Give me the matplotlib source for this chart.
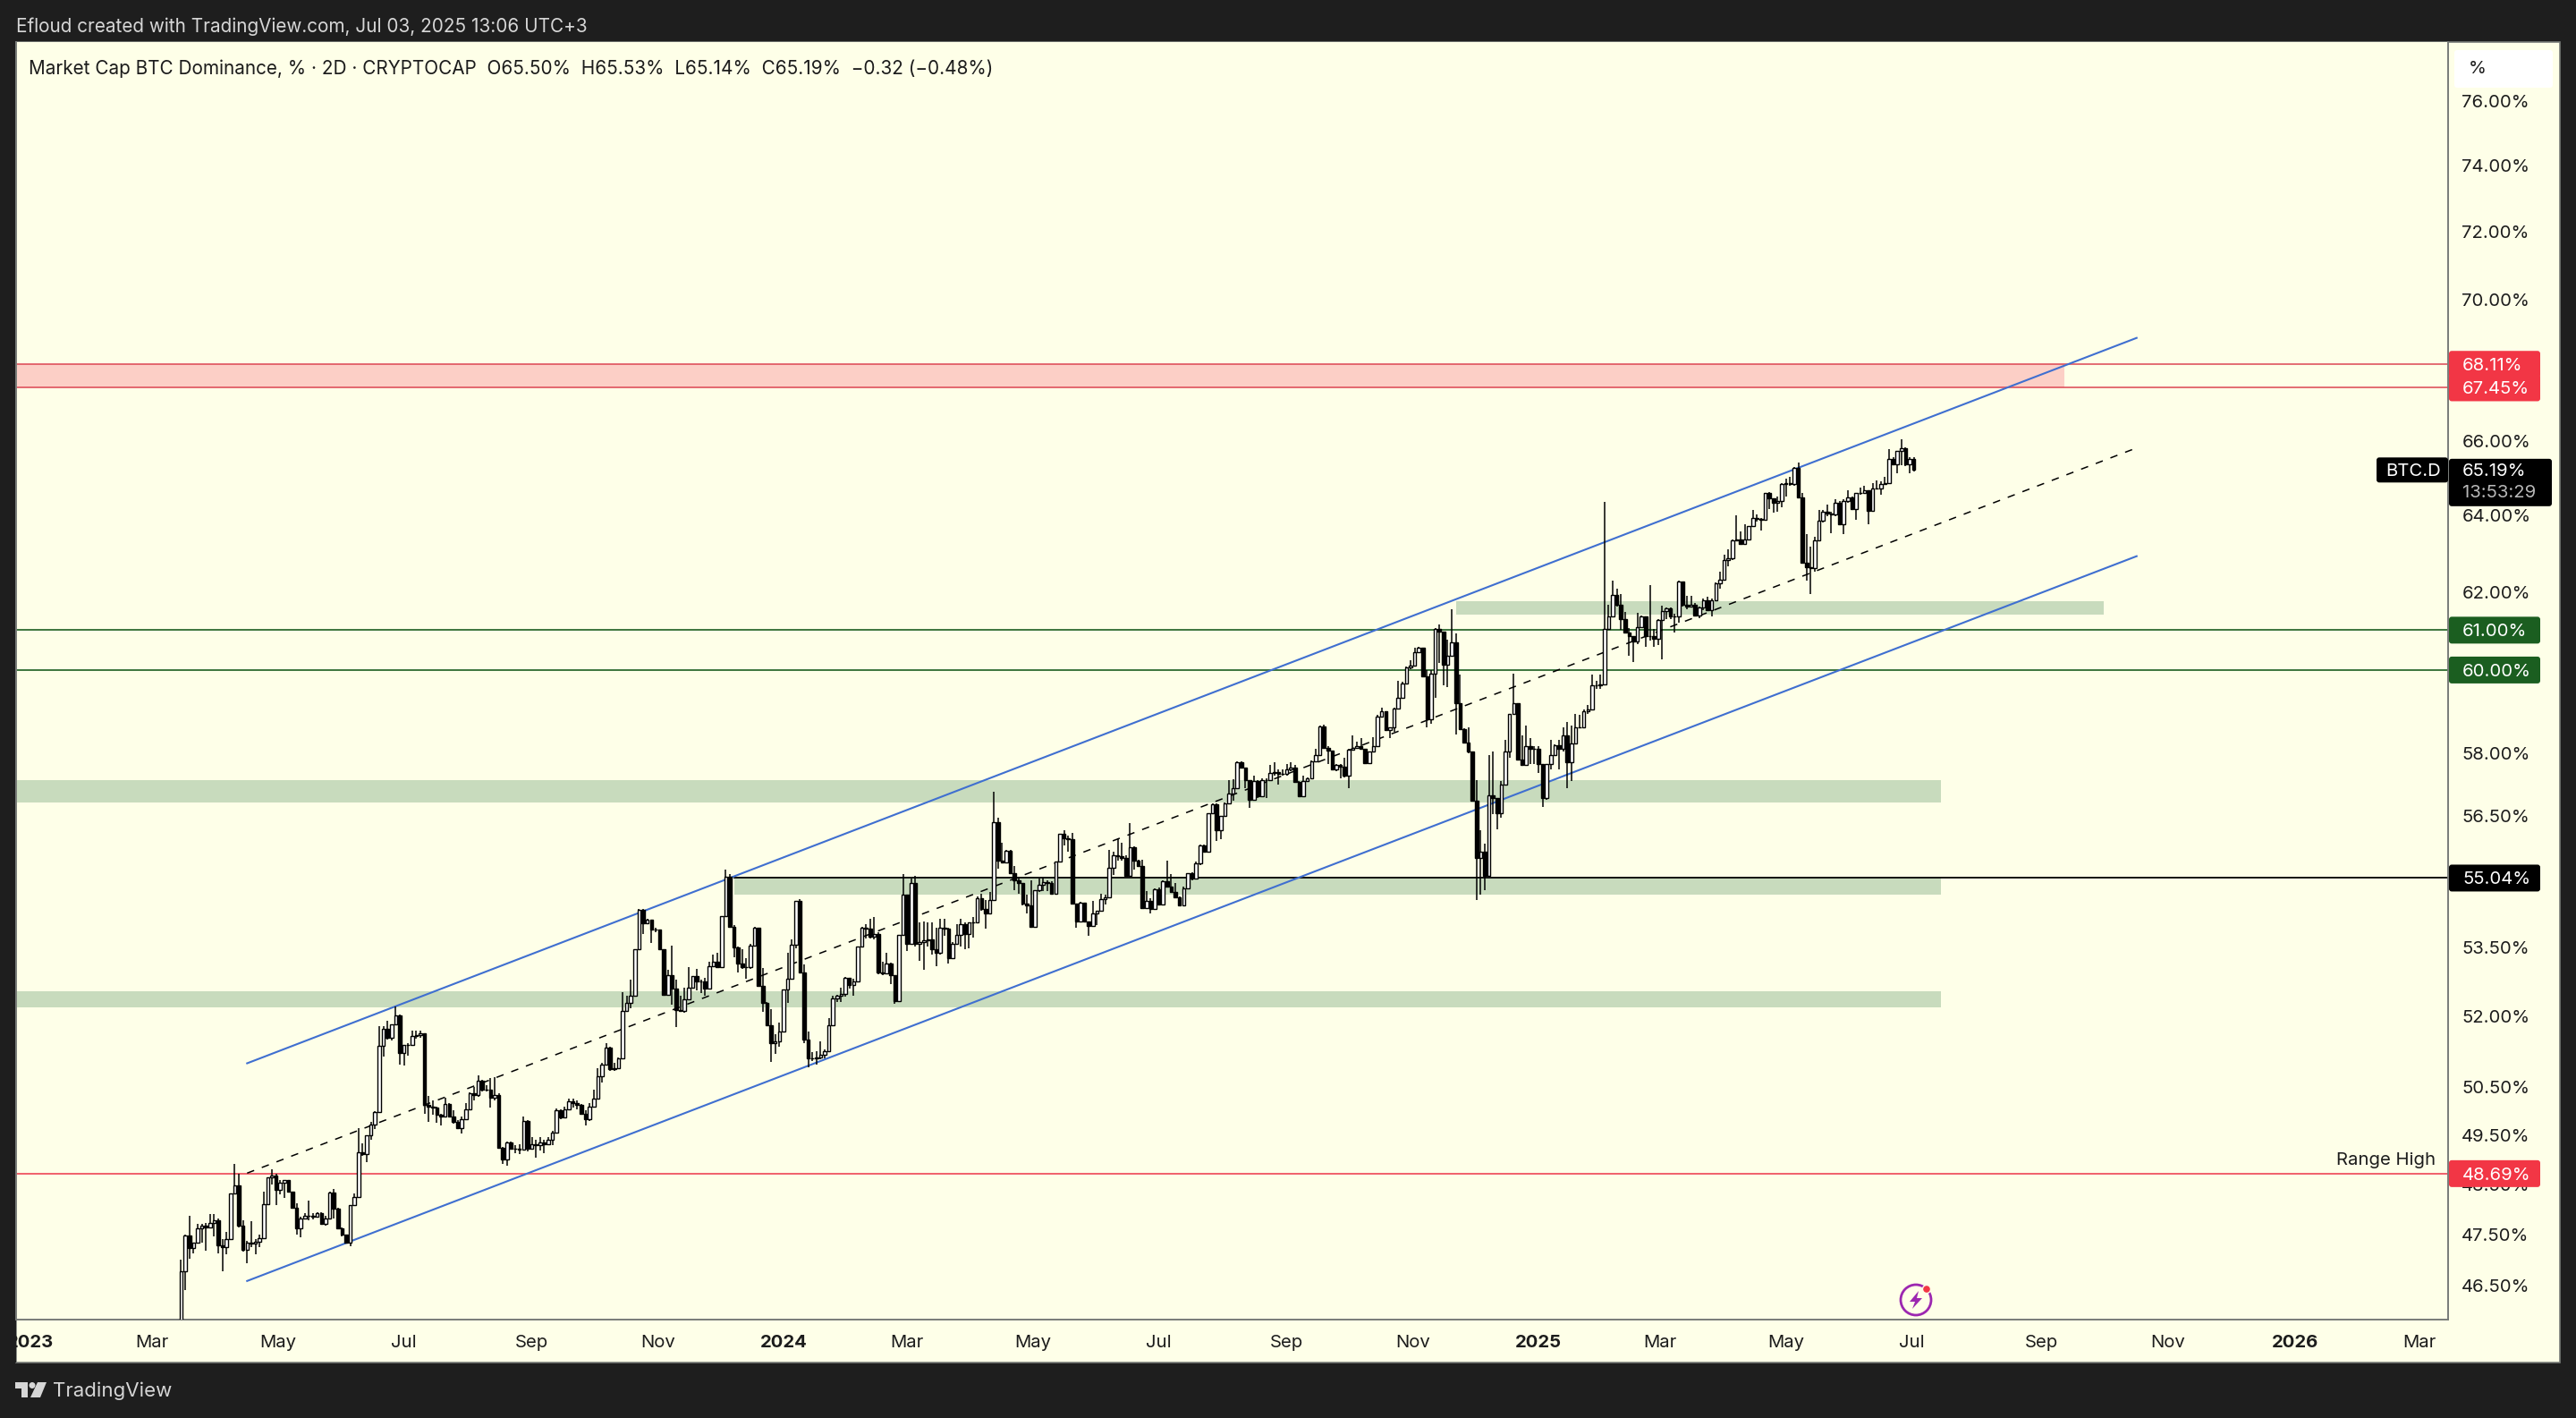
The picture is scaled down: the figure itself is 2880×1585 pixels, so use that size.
import numpy as np
import matplotlib
matplotlib.use('Agg')
import matplotlib.pyplot as plt
import matplotlib.dates as mdates
from matplotlib.patches import Rectangle, FancyBboxPatch, Circle, Polygon
from matplotlib.transforms import IdentityTransform, ScaledTranslation
from datetime import date, timedelta

plt.rcParams['font.family'] = ['Inter', 'DejaVu Sans']

# 2D candles of BTC.D, first bar 2023-03-15
first_bar = date(2023, 3, 15)
first_open = 44.6

closes_a = [46.76, 47.45, 47.21, 47.32, 47.59, 47.65, 47.62, 47.70, 47.76, 47.26,
            47.23, 47.39, 48.29, 48.46, 47.65, 47.17, 47.32, 47.29, 47.33, 47.41,
            48.07, 48.61, 48.65, 48.37, 48.50, 48.56, 48.32, 48.00, 47.59, 47.80,
            47.85, 47.84, 47.82, 47.90, 47.68, 47.80, 48.31, 47.98, 47.60, 47.47,
            47.31, 48.06, 48.22, 49.12, 49.08, 49.47, 49.70, 49.95, 51.34, 51.71,
            51.51, 51.79, 52.00, 51.19, 51.35, 51.36, 51.55, 51.56, 51.60, 50.10,
            50.07, 50.04, 49.89, 49.86, 50.12, 49.86, 49.74, 49.62, 49.80, 50.00,
            50.34, 50.31, 50.60, 50.42, 50.42, 50.25, 50.31, 49.21, 48.98, 49.33,
            49.19, 49.19, 49.18, 49.77, 49.19,
            49.29, 49.26, 49.32, 49.29, 49.38, 49.53, 49.98, 49.83, 50.01, 50.17,
            50.13, 50.10, 49.92, 49.80, 50.07, 50.23]
highs_a = [46.99, 47.47, 47.84, 47.32, 47.68, 47.68, 47.70, 47.88, 47.88, 47.79,
           47.39, 47.53, 48.29, 48.89, 48.68, 47.76, 47.35, 47.74, 47.39, 47.47,
           48.32, 48.62, 48.78, 48.68, 48.56, 48.57, 48.57, 48.29, 48.10, 47.82,
           47.90, 48.15, 47.90, 47.91, 47.91, 47.85, 48.32, 48.38, 48.01, 47.62,
           47.47, 48.06, 48.29, 49.62, 49.31, 49.47, 49.74, 49.96, 51.77, 51.77,
           51.87, 51.80, 52.19, 52.01, 51.35, 51.40, 51.67, 51.67, 51.67, 51.61,
           50.28, 50.19, 50.07, 49.92, 50.25, 50.14, 49.99, 49.78, 49.86, 50.13,
           50.35, 50.48, 50.71, 50.62, 50.51, 50.65, 50.67, 50.34, 49.23, 49.35,
           49.35, 49.26, 49.29, 49.86, 49.78,
           49.44, 49.38, 49.44, 49.38, 49.44, 49.56, 50.03, 50.01, 50.07, 50.23,
           50.23, 50.20, 50.12, 49.98, 50.13, 50.41]
lows_a = [44.50, 46.39, 47.00, 47.10, 47.32, 47.32, 47.16, 47.59, 47.44, 47.11,
          46.76, 47.08, 47.38, 48.27, 47.62, 47.14, 46.91, 47.23, 47.08, 47.23,
          47.41, 48.06, 48.47, 48.06, 48.27, 48.21, 48.31, 48.00, 47.47, 47.43,
          47.79, 47.76, 47.77, 47.85, 47.66, 47.65, 47.79, 47.79, 47.59, 47.44,
          47.29, 47.25, 48.04, 48.22, 49.05, 48.93, 49.38, 49.59, 49.94, 51.12,
          51.48, 51.45, 51.79, 50.95, 50.93, 51.14, 51.43, 51.49, 51.51, 49.92,
          49.74, 49.89, 49.72, 49.68, 49.83, 49.83, 49.71, 49.60, 49.50, 49.86,
          50.15, 50.20, 50.26, 50.38, 50.37, 50.04, 50.19, 49.19, 48.89, 48.85,
          49.18, 49.10, 49.09, 49.17, 49.14,
          49.17, 49.02, 49.16, 49.11, 49.26, 49.26, 49.53, 49.80, 49.83, 49.98,
          50.04, 50.01, 49.89, 49.68, 49.77, 50.06]

closes_b = [50.70, 50.95, 51.30, 50.84, 50.86, 51.08, 52.08, 52.27, 52.42, 53.44,
            54.32, 54.02, 54.09, 53.88, 53.88, 53.44, 52.44, 52.87, 52.57, 52.10,
            52.08, 52.34, 52.59, 52.84, 52.74, 52.73, 52.57, 53.06, 53.16, 53.05,
            54.17, 55.08, 53.94, 53.48, 53.12, 53.05, 53.05, 53.52, 53.92, 52.63,
            52.27, 51.78, 51.39, 51.43, 51.64, 52.55, 52.79, 53.54, 54.52, 52.93,
            51.47, 51.08, 51.08, 51.09, 51.15, 51.22, 51.78, 52.36, 52.42, 52.46,
            52.80, 52.66, 52.74, 53.50, 53.92, 53.90, 53.72, 53.78, 52.92]
highs_b = [50.87, 50.98, 51.39, 51.33, 50.98, 51.09, 52.49, 52.41, 52.76, 53.44,
           54.34, 54.34, 54.12, 54.07, 53.92, 53.88, 53.44, 52.98, 53.52, 52.76,
           52.41, 52.60, 53.05, 52.85, 53.01, 52.76, 52.80, 53.17, 53.33, 53.36,
           54.17, 55.24, 55.13, 53.98, 53.50, 53.43, 53.24, 53.56, 53.94, 53.78,
           53.03, 52.28, 52.12, 51.59, 51.84, 52.55, 53.36, 53.65, 54.52, 54.57,
           53.11, 51.65, 51.21, 51.22, 51.43, 51.27, 51.93, 52.41, 52.44, 52.60,
           52.82, 52.80, 52.79, 53.50, 53.94, 54.00, 54.12, 54.15, 53.82]
lows_b = [50.41, 50.56, 50.95, 50.81, 50.81, 50.90, 51.09, 52.08, 52.14, 52.41,
          53.43, 53.78, 53.99, 53.58, 53.82, 53.43, 52.41, 52.44, 52.22, 51.75,
          52.06, 52.05, 52.32, 52.57, 52.54, 52.47, 52.41, 52.55, 53.05, 53.03,
          53.17, 54.15, 53.92, 53.27, 52.92, 53.00, 52.79, 53.01, 53.51, 52.63,
          52.06, 51.78, 51.00, 51.17, 51.33, 51.65, 52.27, 52.78, 53.46, 52.92,
          51.39, 50.89, 51.02, 50.95, 51.05, 51.07, 51.21, 51.76, 52.28, 52.29,
          52.40, 52.57, 52.41, 52.73, 53.49, 53.68, 53.67, 53.65, 52.89]

closes_c = [52.90, 53.13, 52.87, 52.30, 53.76, 54.66, 53.56, 54.93, 53.56, 53.60,
            53.63, 53.66, 53.43, 53.36, 53.91, 53.90, 53.24, 53.56, 53.76, 53.99,
            53.78, 54.03, 54.03, 54.59, 54.33, 54.24, 54.54, 56.33, 55.44, 55.39,
            55.66, 55.15, 54.99, 54.93, 54.46, 54.43, 53.93, 54.76, 54.88, 54.95,
            54.93, 54.68, 55.41, 56.05, 55.96, 55.93, 54.46, 54.06, 54.49, 54.05,
            53.96, 54.24, 54.30, 54.57, 54.61, 55.27, 55.57, 55.55, 55.50, 55.10,
            55.75, 55.44, 55.32, 54.36, 54.53, 54.33, 54.79, 54.44, 54.97, 54.84,
            54.73, 54.61, 54.43, 54.81, 55.15, 55.03, 55.37, 55.80, 55.65, 56.54,
            56.76, 56.15, 56.47, 56.78, 57.00, 57.14]
highs_c = [53.16, 53.36, 53.15, 52.87, 53.76, 55.13, 54.66, 55.03, 55.10, 54.03,
           54.06, 54.03, 54.03, 53.92, 54.11, 54.11, 53.91, 53.60, 53.99, 54.11,
           54.03, 54.03, 54.16, 54.63, 54.69, 54.55, 54.73, 57.05, 56.43, 55.85,
           55.69, 55.69, 55.32, 55.06, 54.93, 54.66, 54.99, 54.77, 55.03, 55.04,
           54.99, 54.96, 55.42, 56.05, 56.15, 56.01, 56.08, 54.46, 54.51, 54.49,
           54.06, 54.53, 54.30, 54.69, 54.66, 55.69, 55.65, 55.96, 55.85, 55.57,
           56.31, 55.77, 55.46, 55.46, 54.75, 54.59, 54.81, 54.83, 54.99, 55.44,
           55.13, 54.93, 54.63, 54.84, 55.16, 55.18, 55.41, 55.82, 55.82, 56.55,
           56.78, 56.78, 56.48, 56.80, 57.33, 57.35]
lows_c = [52.87, 52.89, 52.67, 52.25, 52.29, 53.76, 53.40, 53.56, 53.50, 53.18,
          52.98, 53.50, 53.33, 53.07, 53.33, 53.73, 53.13, 53.22, 53.54, 53.50,
          53.44, 53.46, 53.70, 54.02, 54.30, 53.90, 54.23, 54.53, 55.25, 55.37,
          55.37, 55.13, 54.76, 54.69, 54.41, 54.23, 53.93, 54.04, 54.73, 54.75,
          54.75, 54.66, 54.68, 55.39, 55.80, 55.65, 54.44, 53.91, 54.05, 54.03,
          53.73, 54.11, 53.98, 54.28, 54.44, 54.59, 55.11, 55.44, 55.43, 55.06,
          55.08, 55.23, 55.30, 54.35, 54.35, 54.24, 54.35, 54.43, 54.43, 54.83,
          54.71, 54.59, 54.41, 54.41, 54.79, 54.99, 55.01, 55.34, 55.64, 55.64,
          56.52, 55.89, 55.93, 56.47, 56.76, 56.83]

closes_d = [57.75, 57.61, 57.32, 56.86, 57.29, 56.93, 57.32, 57.32, 57.50, 57.52,
            57.47, 57.47, 57.57, 57.61, 57.27, 56.95, 57.29, 57.37, 57.78, 57.93,
            58.62, 58.10, 58.03, 57.57, 57.68, 57.64, 57.42, 58.05, 58.10, 58.14,
            58.08, 57.73, 58.00, 58.14, 58.86, 58.98, 58.53, 58.58, 59.05, 59.31,
            59.67, 60.06, 60.10, 60.45, 60.55, 59.84, 58.78, 59.90, 61.03, 60.96,
            60.14, 60.36, 60.70, 59.17, 58.55, 58.23, 58.00, 56.83, 55.51, 55.65,
            55.09, 56.97, 56.90, 56.54, 57.22, 58.01, 58.91, 59.17, 57.82, 57.68,
            58.14, 58.08, 58.08, 57.70, 56.90, 57.71, 57.93, 58.15, 58.07, 58.39,
            57.75, 58.20, 58.58, 58.60, 58.99, 59.03]
highs_d = [57.76, 57.76, 57.59, 57.32, 57.43, 57.32, 57.36, 57.37, 57.68, 57.75,
           57.57, 57.57, 57.70, 57.75, 57.68, 57.29, 57.43, 57.39, 57.80, 58.07,
           58.64, 58.65, 58.14, 58.03, 57.71, 57.71, 57.86, 58.07, 58.39, 58.25,
           58.32, 58.00, 58.01, 58.35, 58.89, 59.06, 58.99, 58.60, 59.06, 59.74,
           59.70, 60.08, 60.25, 60.55, 60.59, 60.55, 59.99, 59.99, 61.05, 61.15,
           60.96, 60.77, 61.52, 60.92, 59.88, 58.57, 58.60, 58.01, 57.32, 56.15,
           55.83, 57.93, 58.00, 56.90, 57.29, 58.28, 58.92, 59.91, 59.17, 58.39,
           58.64, 58.32, 58.14, 58.13, 57.70, 57.71, 58.28, 58.18, 58.28, 58.60,
           58.71, 58.64, 58.92, 58.89, 59.03, 59.13]
lows_d = [57.15, 57.59, 57.13, 56.66, 56.85, 56.90, 56.92, 56.90, 57.29, 57.42,
          57.22, 57.43, 57.43, 57.54, 57.25, 56.93, 56.96, 57.29, 57.36, 57.75,
          57.91, 58.08, 57.71, 57.56, 57.54, 57.36, 57.39, 57.13, 58.03, 58.08,
          58.05, 57.71, 57.71, 57.98, 58.13, 58.85, 58.51, 58.32, 58.49, 59.05,
          59.33, 59.67, 60.02, 60.08, 60.45, 59.83, 58.60, 58.67, 59.31, 60.17,
          59.62, 59.57, 60.36, 58.41, 58.53, 58.21, 57.96, 56.83, 54.55, 54.67,
          54.77, 55.09, 56.51, 56.17, 56.44, 57.22, 57.86, 58.91, 57.82, 57.66,
          57.68, 57.70, 57.71, 57.50, 56.68, 56.86, 57.57, 57.93, 57.57, 58.00,
          57.13, 57.29, 58.18, 58.57, 58.58, 58.92]

closes_e = [59.63, 59.63, 59.65, 61.04, 61.36, 61.90, 61.65, 61.27, 60.95, 60.84,
            60.72, 61.08, 61.34, 60.85, 60.84, 60.78, 61.25, 61.48, 61.56, 61.34,
            61.34, 62.24, 61.65, 61.59, 61.65, 61.38, 61.57, 61.77, 61.51, 61.77,
            62.19, 62.30, 62.80, 62.84, 63.32, 63.33, 63.22, 63.33, 63.68, 63.91,
            63.87, 63.86, 64.57, 64.42, 64.32, 64.36, 64.80, 64.83, 64.80, 65.25,
            64.45, 62.72, 62.61, 62.58, 63.32, 63.83, 64.07, 64.03, 63.99, 64.32,
            63.73, 64.36, 64.45, 64.15, 64.56, 64.58, 64.64, 64.10, 64.70, 64.70,
            64.80, 64.83, 65.49, 65.35, 65.72, 65.77, 65.35, 65.50, 65.19]
highs_e = [59.88, 59.73, 59.88, 64.33, 61.65, 62.26, 62.05, 61.92, 61.46, 61.05,
           60.85, 61.44, 61.38, 61.36, 62.15, 61.04, 61.27, 61.63, 61.57, 61.57,
           61.42, 62.26, 62.24, 61.88, 61.88, 61.69, 61.61, 61.80, 61.86, 61.80,
           62.22, 62.49, 62.94, 63.07, 63.33, 63.98, 63.56, 63.75, 63.70, 64.13,
           63.99, 63.91, 64.58, 64.60, 64.42, 64.48, 64.83, 64.96, 65.00, 65.26,
           65.38, 64.56, 63.49, 63.14, 63.41, 64.13, 64.11, 64.27, 64.07, 64.40,
           64.36, 64.40, 64.64, 64.48, 64.58, 64.72, 64.76, 64.64, 64.84, 64.92,
           64.88, 65.00, 65.75, 65.53, 65.72, 66.02, 65.81, 65.53, 65.53]
lows_e = [59.54, 59.54, 59.54, 59.63, 61.00, 61.34, 61.61, 61.00, 60.93, 60.36,
          60.21, 60.65, 61.08, 60.59, 60.74, 60.59, 60.63, 60.27, 61.27, 61.27,
          60.95, 61.19, 61.61, 61.54, 61.57, 61.34, 61.31, 61.50, 61.48, 61.36,
          61.77, 62.07, 62.30, 62.64, 62.80, 63.30, 63.20, 63.22, 63.33, 63.68,
          63.81, 63.58, 63.85, 64.15, 64.05, 64.07, 64.18, 64.48, 64.76, 64.76,
          64.44, 62.71, 62.26, 61.92, 62.49, 63.32, 63.79, 63.95, 63.51, 63.95,
          63.72, 63.47, 64.32, 64.13, 63.85, 64.53, 64.60, 63.73, 64.07, 64.68,
          64.52, 64.80, 64.80, 65.33, 65.09, 65.33, 65.29, 65.10, 65.14]

# price scale and time scale
price_ticks = [76, 74, 72, 70, 66, 64, 62, 58, 56.5, 53.5, 52, 50.5, 49.5, 48.5, 47.5, 46.5]
time_ticks = ['2023-01-01', '2023-03-01', '2023-05-01', '2023-07-01', '2023-09-01',
              '2023-11-01', '2024-01-01', '2024-03-01', '2024-05-01', '2024-07-01',
              '2024-09-01', '2024-11-01', '2025-01-01', '2025-03-01', '2025-05-01',
              '2025-07-01', '2025-09-02', '2025-11-02', '2026-01-03', '2026-03-04']
time_labels = ['2023', 'Mar', 'May', 'Jul', 'Sep', 'Nov', '2024', 'Mar', 'May', 'Jul',
               'Sep', 'Nov', '2025', 'Mar', 'May', 'Jul', 'Sep', 'Nov', '2026', 'Mar']

# channel, from start to end
channel_dates = ['2023-04-16', '2025-10-18']
channel_upper = [50.97, 68.86]
channel_mid = [48.70, 65.79]
channel_lower = [46.57, 62.90]

# zones: start, end, top, bottom (None = from the left edge)
green_zones = [('2024-11-22', '2025-10-02', 61.73, 61.39),
               (None, '2025-07-15', 57.32, 56.79),
               ('2023-12-08', '2025-07-15', 55.04, 54.66),
               (None, '2025-07-15', 52.52, 52.17)]
red_zone = (None, '2025-09-13', 68.11, 67.45)

BG = '#feffe8'
DARK = '#1e1e1e'
EDGE = '#787b78'
INK = '#1c1c1c'
RED = '#f23645'
GREEN = '#1b5e20'
BLUE = '#3f6fd0'
FS = 14.6


def num(d):
    return mdates.date2num(date.fromisoformat(d))


W, H = 2880, 1585
fig = plt.figure(figsize=(W / 100, H / 100), dpi=100, facecolor=DARK)
ident = IdentityTransform()


def box(x0, y0, x1, y1, **kw):
    # rectangle in image pixels, y counted from the top
    r = Rectangle((x0, H - y1), x1 - x0, y1 - y0, transform=ident, **kw)
    fig.add_artist(r)
    return r


box(18, 47, 2862, 1523, facecolor=BG, edgecolor=EDGE, linewidth=1.2, zorder=-1)

ax = fig.add_axes([18 / W, (H - 1475) / H, (2737 - 18) / W, (1475 - 47) / H], facecolor=BG, zorder=1)
ax.set_yscale('log')
xmin, xmax = num('2022-12-25'), num('2026-03-18')
ax.set_xlim(xmin, xmax)
ax.set_ylim(45.83, 77.85)

closes = np.array(closes_a + closes_b + closes_c + closes_d + closes_e)
highs = np.array(highs_a + highs_b + highs_c + highs_d + highs_e)
lows = np.array(lows_a + lows_b + lows_c + lows_d + lows_e)
opens = np.r_[first_open, closes[:-1]]
opens[-1] = 65.50
days = mdates.date2num(first_bar) + 2 * np.arange(len(closes))

# zones and levels
for start, end, top, bottom in green_zones:
    x0 = xmin if start is None else num(start)
    ax.fill_between([x0, num(end)], bottom, top, color='#c8dbbd', lw=0, zorder=1)
ax.fill_between([xmin, num(red_zone[1])], red_zone[3], red_zone[2], color='#fccfc6', lw=0, zorder=1)

ax.axhline(68.11, color='#dc4553', lw=1.1, zorder=2)
ax.axhline(67.45, color='#dc4553', lw=1.1, zorder=2)
ax.axhline(61.0, color=GREEN, lw=1.2, zorder=2)
ax.axhline(60.0, color=GREEN, lw=1.2, zorder=2)
ax.axhline(48.69, color='#ee4455', lw=1.2, zorder=2)
ax.plot([num('2023-12-08'), xmax], [55.04, 55.04], color='black', lw=1.3, zorder=2)

cx = [num(d) for d in channel_dates]
ax.plot(cx, channel_upper, color=BLUE, lw=1.5, zorder=2)
ax.plot(cx, channel_lower, color=BLUE, lw=1.5, zorder=2)
ax.plot(cx, channel_mid, color='black', lw=1.1, ls=(0, (5.5, 6)), zorder=2)

# candles
ax.vlines(days, lows, highs, color='black', lw=1.1, zorder=3)
up = closes >= opens
body_w = 1.55
ax.bar(days[up], (closes - opens)[up], bottom=opens[up], width=body_w,
       facecolor='white', edgecolor='black', linewidth=1.0, zorder=4)
ax.bar(days[~up], (opens - closes)[~up], bottom=closes[~up], width=body_w,
       facecolor='black', edgecolor='black', linewidth=1.0, zorder=4)

# axes text
ax.yaxis.tick_right()
ax.minorticks_off()
ax.set_yticks(price_ticks)
ax.set_yticklabels(['%.2f%%' % v for v in price_ticks], fontsize=FS, color=INK)
ax.tick_params(axis='y', which='both', length=0, pad=11)
ax.yaxis.set_minor_locator(matplotlib.ticker.NullLocator())
ax.set_xticks([num(d) for d in time_ticks])
ax.set_xticklabels(time_labels, fontsize=FS, color=INK)
ax.tick_params(axis='x', length=0, pad=12)
for lab in ax.get_xticklabels():
    if lab.get_text().startswith('20'):
        lab.set_fontweight('bold')
for lab in ax.get_yticklabels():
    lab.set_transform(lab.get_transform() + ScaledTranslation(0, -1.0 / 72, fig.dpi_scale_trans))
for name, sp in ax.spines.items():
    sp.set_color(EDGE)
    sp.set_linewidth(1.4)
ax.spines['top'].set_visible(False)

# hide what falls left of the chart, like the "2" of 2023
box(0, 1476, 18, 1523, facecolor=DARK, edgecolor='none', zorder=6)


def price_y(v):
    return ax.transData.transform((xmin, v))[1]


def tag(x0, x1, yc, h, color):
    p = FancyBboxPatch((x0, yc - h / 2), x1 - x0, h, boxstyle='round,pad=0,rounding_size=3',
                       transform=ident, facecolor=color, edgecolor='none', zorder=7)
    fig.add_artist(p)


def price_tag(v, color):
    yc = price_y(v)
    tag(2738, 2840, yc, 30, color)
    fig.text(2753, yc - 2, '%.2f%%' % v, transform=ident, color='white', fontsize=FS,
             va='center', ha='left', zorder=8)


price_tag(68.11, RED)
price_tag(67.45, RED)
price_tag(61.0, GREEN)
price_tag(60.0, GREEN)
price_tag(55.04, 'black')
price_tag(48.69, RED)

# last price
yc = price_y(65.19)
tag(2657, 2737, yc, 28, 'black')
tag(2738, 2853, yc - 14, 53, 'black')
fig.text(2667, yc - 2, 'BTC.D', transform=ident, color='white', fontsize=FS, va='center', zorder=8)
fig.text(2753, yc - 2, '65.19%', transform=ident, color='white', fontsize=FS, va='center', zorder=8)
fig.text(2753, yc - 26, '13:53:29', transform=ident, color='#b8b8b8', fontsize=FS, va='center', zorder=8)

fig.text(2723, H - 1297, 'Range High', transform=ident, color=INK, fontsize=FS, ha='right', va='center', zorder=8)

# % button
tag(2744, 2854, H - 77, 42, 'white')
fig.text(2760, H - 77, '%', transform=ident, color=INK, fontsize=FS, va='center', zorder=8)

# header and footer
fig.text(18, H - 29.5, 'Efloud created with TradingView.com, Jul 03, 2025 13:06 UTC+3', transform=ident,
         color='#d6d6d6', fontsize=14.9, va='center', zorder=8)
fig.text(32, H - 76.5, 'Market Cap BTC Dominance, % · 2D · CRYPTOCAP  O65.50%  H65.53%  L65.14%  C65.19%  −0.32 (−0.48%)',
         transform=ident, color=INK, fontsize=14.9, va='center', zorder=8)
fig.text(59, H - 1555, 'TradingView', transform=ident, color='#d6d6d6', fontsize=16, va='center', zorder=8)

# logo
logo = '#d6d6d6'
box(17, 1545, 31, 1552, facecolor=logo, edgecolor='none', zorder=8)
box(24, 1552, 31, 1562, facecolor=logo, edgecolor='none', zorder=8)
fig.add_artist(Circle((36, H - 1548.5), 3.5, transform=ident, facecolor=logo, edgecolor='none', zorder=8))
fig.add_artist(Polygon([(42, H - 1545), (52, H - 1545), (45, H - 1562), (34, H - 1562)], closed=True,
                       transform=ident, facecolor=logo, edgecolor='none', zorder=8))

# flash icon
fig.add_artist(Circle((2142, H - 1453), 17, transform=ident, facecolor=BG, edgecolor='#9c27b0', linewidth=2, zorder=8))
fig.add_artist(Polygon([(2145, H - 1443), (2135, H - 1455), (2141, H - 1455), (2138, H - 1463),
                        (2149, H - 1451), (2143, H - 1451)], closed=True, transform=ident,
                       facecolor='#9c27b0', edgecolor='none', zorder=9))
fig.add_artist(Circle((2154, H - 1441), 4.5, transform=ident, facecolor='#f23645', edgecolor=BG, linewidth=1, zorder=9))

fig.savefig('out.png', dpi=100, facecolor=DARK)
